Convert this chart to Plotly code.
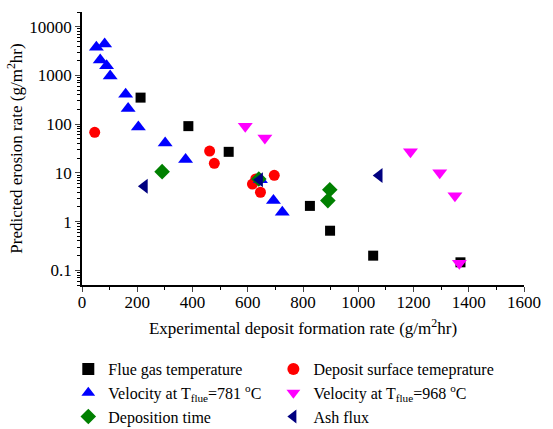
import plotly.graph_objects as go
import numpy as np

# Data
flue_x = [212, 385, 531, 825, 898, 1054, 1370]
flue_y = [350, 91, 27, 2.1, 0.65, 0.20, 0.146]

surf_x = [46, 462, 479, 617, 629, 646, 696]
surf_y = [68, 28, 15.7, 5.9, 7.5, 4.0, 8.9]

v781_x = [52, 82, 66, 89, 102, 158, 167, 204, 301, 375, 646, 693, 725]
v781_y = [3760, 4400, 2060, 1570, 977, 410, 210, 87, 41, 18.7, 7.2, 2.7, 1.56]

v968_x = [591, 662, 1189, 1295, 1350, 1366]
v968_y = [91, 52, 27, 10, 3.4, 0.139]

time_x = [290, 640, 890, 897]
time_y = [10.6, 7.5, 2.7, 4.5]

ash_x = [226, 643, 1076]
ash_y = [5.3, 7.2, 8.8]

y_ticks = [0.1, 1, 10, 100, 1000, 10000]
y_ticktext = ["0.1", "1", "10", "100", "1000", "10000"]
x_ticks = [0, 200, 400, 600, 800, 1000, 1200, 1400, 1600]

FONT = "Liberation Serif, Times New Roman, serif"

series = [
    ("Flue gas temperature", flue_x, flue_y, "square", "black", 10, "legend"),
    ("Deposit surface temeprature", surf_x, surf_y, "circle", "red", 11, "legend2"),
    ("Velocity at T<sub>flue</sub>=781 <sup>o</sup>C", v781_x, v781_y, "triangle-up", "blue", 13, "legend"),
    ("Velocity at T<sub>flue</sub>=968 <sup>o</sup>C", v968_x, v968_y, "triangle-down", "magenta", 13, "legend2"),
    ("Deposition time", time_x, time_y, "diamond", "green", 12, "legend"),
    ("Ash flux", ash_x, ash_y, "triangle-left", "#000080", 13, "legend2"),
]

fig = go.Figure()
for name, xs, ys, sym, col, sz, leg in series:
    fig.add_trace(go.Scatter(x=xs, y=ys, mode="markers", name=name, legend=leg,
                             marker=dict(symbol=sym, color=col, size=sz, line=dict(width=0))))

y_minor = [m * 10.0 ** e for e in range(-2, 5) for m in range(2, 10)]
y_minor = [v for v in y_minor if 0.05 <= v <= 20000]
x_minor = list(range(100, 1600, 200))

yr = [np.log10(0.05), np.log10(20000)]

leg_common = dict(orientation="v", yref="container", yanchor="top", y=0.1795,
                  xref="paper", xanchor="left",
                  font=dict(size=16, family=FONT), itemsizing="constant",
                  tracegroupgap=0, bgcolor="rgba(0,0,0,0)")

fig.update_layout(
    width=553, height=429,
    margin=dict(l=82, r=18, t=12, b=144),
    paper_bgcolor="white", plot_bgcolor="white",
    font=dict(family=FONT, size=16, color="black"),
    showlegend=True,
    legend=dict(x=-0.031, **leg_common),
    legend2=dict(x=0.433, **leg_common),
    xaxis=dict(range=[0, 1600], tickvals=x_ticks, ticks="outside", ticklen=5,
               tickwidth=1, showline=True, linecolor="black", linewidth=1.5,
               showgrid=False, zeroline=False, tickfont=dict(size=17, family=FONT),
               ticklabelstandoff=-4,
               minor=dict(tickvals=x_minor, ticks="outside", ticklen=3, tickcolor="black"),
               title=dict(text="Experimental deposit formation rate (g/m<sup>2</sup>hr)",
                          font=dict(size=17, family=FONT), standoff=11)),
    yaxis=dict(type="log", range=yr, tickvals=y_ticks, ticktext=y_ticktext,
               ticks="outside", ticklen=5, tickwidth=1, showline=True, linecolor="black",
               linewidth=1.5, showgrid=False, zeroline=False, tickfont=dict(size=17, family=FONT),
               minor=dict(tickvals=y_minor, ticks="outside", ticklen=3, tickcolor="black"),
               title=dict(text="Predicted erosion rate (g/m<sup>2</sup>hr)",
                          font=dict(size=17, family=FONT), standoff=2)),
    xaxis2=dict(overlaying="x", side="top", anchor="y", range=[0, 1600], tickvals=x_ticks,
                ticks="inside", ticklen=5, showticklabels=False, showline=True,
                linecolor="black", linewidth=1.5, showgrid=False, zeroline=False,
                minor=dict(tickvals=x_minor, ticks="inside", ticklen=3, tickcolor="black")),
    yaxis2=dict(overlaying="y", side="right", anchor="x", type="log", range=yr,
                tickvals=y_ticks, ticks="inside", ticklen=5, showticklabels=False,
                showline=True, linecolor="black", linewidth=1.5, showgrid=False,
                zeroline=False,
                minor=dict(tickvals=y_minor, ticks="inside", ticklen=3, tickcolor="black")),
)

fig.write_html("out.html")
